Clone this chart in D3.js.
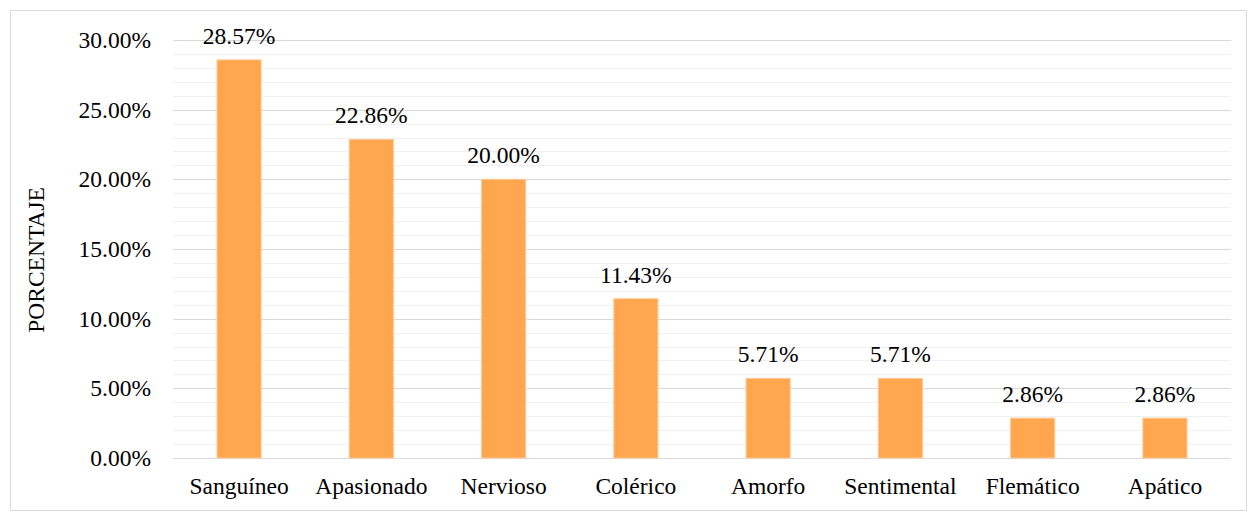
<!DOCTYPE html>
<html><head><meta charset="utf-8">
<script src="https://cdn.jsdelivr.net/npm/d3@7"></script>
<style>body{margin:0;background:#fff}svg{display:block}</style>
</head><body><svg id="c" width="1248" height="512"></svg>
<script>
const categories = ["Sanguíneo","Apasionado","Nervioso","Colérico","Amorfo","Sentimental","Flemático","Apático"];
const values = [28.57, 22.86, 20.00, 11.43, 5.71, 5.71, 2.86, 2.86];
const valueLabels = ["28.57%","22.86%","20.00%","11.43%","5.71%","5.71%","2.86%","2.86%"];
const yTicks = [0,5,10,15,20,25,30];
const yTickLabels = ["0.00%","5.00%","10.00%","15.00%","20.00%","25.00%","30.00%"];
const minorTicks = d3.range(0, 31, 1);

(function(){
const svg = d3.select("#c");
const font = "'Liberation Serif','Times New Roman',serif";
const fs = "23.5px";
svg.append("rect").attr("x",10.5).attr("y",10.5).attr("width",1236).attr("height",500)
  .attr("fill","#fff").attr("stroke","#d9d9d9").attr("stroke-width",1);

const pLeft=173, pRight=1231, pTop=40, pBottom=458;
const x = d3.scaleBand().domain(categories).range([pLeft,pRight]).paddingInner(0.667).paddingOuter(0.333);
const y = d3.scaleLinear().domain([0,30]).range([pBottom,pTop]);

svg.append("g").selectAll("line").data(minorTicks.filter(d=>d%5!==0)).join("line")
  .attr("x1",pLeft).attr("x2",pRight).attr("y1",d=>Math.round(y(d))+0.5).attr("y2",d=>Math.round(y(d))+0.5)
  .attr("stroke","#f0f0f0").attr("stroke-width",1);
svg.append("g").selectAll("line").data(yTicks).join("line")
  .attr("x1",pLeft).attr("x2",pRight).attr("y1",d=>Math.round(y(d))+0.5).attr("y2",d=>Math.round(y(d))+0.5)
  .attr("stroke","#d9d9d9").attr("stroke-width",1);

const yAxis = d3.axisLeft(y).tickValues(yTicks).tickFormat((d,i)=>yTickLabels[i]).tickSize(0).tickPadding(22);
const ga = svg.append("g").attr("transform",`translate(${pLeft},0)`).call(yAxis);
ga.select(".domain").remove();
ga.selectAll("text").style("font-family",font).style("font-size",fs).attr("fill","#000");

svg.append("g").selectAll("rect").data(values).join("rect")
  .attr("x",(d,i)=>x(categories[i])).attr("width",x.bandwidth())
  .attr("y",d=>y(d)).attr("height",d=>pBottom-y(d))
  .attr("fill","#ffa64f").attr("stroke","#ffc78f").attr("stroke-width",1);

svg.append("g").selectAll("text").data(values).join("text")
  .attr("x",(d,i)=>x(categories[i])+x.bandwidth()/2).attr("y",d=>y(d)-16)
  .attr("text-anchor","middle").style("font-family",font).style("font-size",fs).attr("fill","#000")
  .text((d,i)=>valueLabels[i]);

const xAxis = d3.axisBottom(x).tickSize(0).tickPadding(19);
const gx = svg.append("g").attr("transform",`translate(0,${pBottom})`).call(xAxis);
gx.select(".domain").remove();
gx.selectAll("text").style("font-family",font).style("font-size",fs).attr("fill","#000");

svg.append("text").attr("transform","translate(44,260) rotate(-90)").attr("text-anchor","middle")
  .style("font-family",font).style("font-size","23.5px").attr("fill","#000").text("PORCENTAJE");
})();
</script></body></html>
